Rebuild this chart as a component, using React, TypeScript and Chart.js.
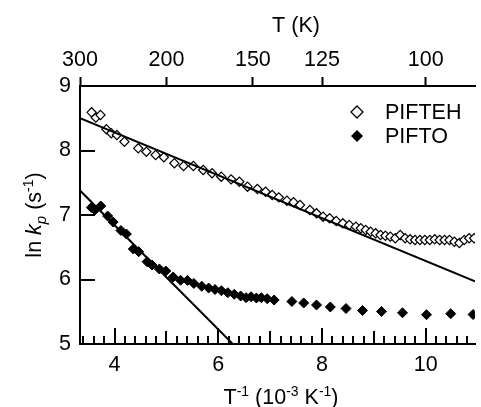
import React, { useEffect, useRef } from "react";
import { Chart, registerables } from "chart.js";
Chart.register(...registerables);

// ---- data ----
const piftehX = [3.557, 3.639, 3.728, 3.842, 3.937, 4.044, 4.19, 4.456, 4.613, 4.792, 4.95, 5.153, 5.33, 5.519, 5.709, 5.88, 6.057, 6.247, 6.406, 6.564, 6.754, 6.912, 7.039, 7.166, 7.324, 7.451, 7.576, 7.766, 7.894, 8.021, 8.146, 8.274, 8.401, 8.526, 8.653, 8.748, 8.843, 8.938, 9.033, 9.128, 9.223, 9.318, 9.413, 9.508, 9.603, 9.698, 9.793, 9.888, 9.983, 10.078, 10.173, 10.268, 10.363, 10.458, 10.553, 10.648, 10.743, 10.838, 10.933];
const piftehY = [8.592, 8.509, 8.55, 8.329, 8.267, 8.24, 8.136, 8.034, 7.981, 7.93, 7.895, 7.802, 7.76, 7.76, 7.698, 7.647, 7.594, 7.553, 7.516, 7.439, 7.403, 7.361, 7.31, 7.274, 7.222, 7.197, 7.155, 7.078, 7.026, 6.974, 6.949, 6.907, 6.871, 6.845, 6.819, 6.794, 6.767, 6.741, 6.716, 6.69, 6.679, 6.664, 6.639, 6.69, 6.639, 6.623, 6.612, 6.612, 6.612, 6.612, 6.623, 6.612, 6.612, 6.612, 6.586, 6.566, 6.612, 6.639, 6.639];
const piftoX = [3.553, 3.62, 3.734, 3.867, 3.972, 4.123, 4.228, 4.361, 4.465, 4.627, 4.722, 4.864, 4.988, 5.13, 5.273, 5.406, 5.529, 5.681, 5.814, 5.937, 6.061, 6.184, 6.308, 6.431, 6.536, 6.631, 6.735, 6.83, 6.944, 7.077, 7.419, 7.647, 7.894, 8.16, 8.463, 8.781, 9.147, 9.552, 10.015, 10.482, 10.913];
const piftoY = [7.116, 7.078, 7.14, 6.984, 6.891, 6.76, 6.705, 6.473, 6.431, 6.276, 6.225, 6.163, 6.132, 6.039, 5.988, 5.985, 5.938, 5.895, 5.868, 5.845, 5.826, 5.795, 5.771, 5.744, 5.718, 5.733, 5.713, 5.718, 5.702, 5.682, 5.659, 5.636, 5.605, 5.574, 5.55, 5.519, 5.504, 5.484, 5.454, 5.47, 5.457];
const fitPiftehX = [10 / 3, 10.95];
const fitPiftehY = [8.5, 5.97];
const fitPiftoX = [10 / 3, 6.28];
const fitPiftoY = [7.38, 5.0];
const bottomTicks = [4, 6, 8, 10];
const topTempsK = [300, 200, 150, 125, 100];
const yTicks = [5, 6, 7, 8, 9];
const legendLabels = ["PIFTEH", "PIFTO"];

const X_MIN = 10 / 3;
const X_MAX = 10.95;
const FONT = '"Liberation Sans", Arial, Helvetica, sans-serif';
const FS = 21.5;
const SUP = 14;

type Seg = { t: string; size?: number; italic?: boolean; dy?: number };

function drawRich(ctx: CanvasRenderingContext2D, segs: Seg[], x: number, y: number) {
  const fontOf = (s: Seg) => `${s.italic ? "italic " : ""}${s.size ?? FS}px ${FONT}`;
  let total = 0;
  for (const s of segs) {
    ctx.font = fontOf(s);
    total += ctx.measureText(s.t).width;
  }
  let cx = x - total / 2;
  ctx.textBaseline = "alphabetic";
  ctx.textAlign = "left";
  for (const s of segs) {
    ctx.font = fontOf(s);
    ctx.fillText(s.t, cx, y + (s.dy ?? 0));
    cx += ctx.measureText(s.t).width;
  }
}

function diamond(ctx: CanvasRenderingContext2D, x: number, y: number, r: number, filled: boolean) {
  ctx.beginPath();
  ctx.moveTo(x, y - r);
  ctx.lineTo(x + r, y);
  ctx.lineTo(x, y + r);
  ctx.lineTo(x - r, y);
  ctx.closePath();
  if (filled) {
    ctx.fillStyle = "#000";
    ctx.fill();
  } else {
    ctx.fillStyle = "#fff";
    ctx.fill();
    ctx.lineWidth = 1.3;
    ctx.strokeStyle = "#000";
    ctx.stroke();
  }
}

const decorPlugin = {
  id: "decor",
  afterDraw(chart: any) {
    const ctx: CanvasRenderingContext2D = chart.ctx;
    const xs = chart.scales.x;
    const ys = chart.scales.y;
    const { top, bottom, left } = chart.chartArea;
    ctx.save();
    ctx.strokeStyle = "#000";
    ctx.lineWidth = 2;
    // inward bottom ticks
    for (let i = 17; i <= 54; i++) {
      const v = i / 5;
      if (v < xs.min || v > xs.max) continue;
      const px = Math.round(xs.getPixelForValue(v));
      const len = i % 10 === 0 ? 16 : i % 5 === 0 ? 13 : 8;
      ctx.beginPath();
      ctx.moveTo(px, bottom);
      ctx.lineTo(px, bottom - len);
      ctx.stroke();
    }
    // inward left ticks
    for (const v of yTicks) {
      const py = Math.round(ys.getPixelForValue(v));
      ctx.beginPath();
      ctx.moveTo(left, py);
      ctx.lineTo(left + 15, py);
      ctx.stroke();
    }
    // legend
    diamond(ctx, 357, 112, 6, false);
    diamond(ctx, 357, 136, 6, true);
    ctx.fillStyle = "#000";
    ctx.font = `${FS}px ${FONT}`;
    ctx.textAlign = "left";
    ctx.textBaseline = "middle";
    ctx.fillText(legendLabels[0], 385, 113);
    ctx.fillText(legendLabels[1], 385, 137);
    // titles
    drawRich(ctx, [{ t: "T (K)" }], 296, 32);
    drawRich(
      ctx,
      [
        { t: "T" },
        { t: "-1", size: SUP, dy: -8 },
        { t: " (10" },
        { t: "-3", size: SUP, dy: -8 },
        { t: " K" },
        { t: "-1", size: SUP, dy: -8 },
        { t: ")" },
      ],
      281,
      404
    );
    ctx.save();
    ctx.translate(41, (top + bottom) / 2);
    ctx.rotate(-Math.PI / 2);
    drawRich(
      ctx,
      [
        { t: "ln " },
        { t: "k", italic: true },
        { t: "p", italic: true, size: 15, dy: 5 },
        { t: " (s" },
        { t: "-1", size: SUP, dy: -8 },
        { t: ")" },
      ],
      0,
      0
    );
    ctx.restore();
    ctx.restore();
  },
};

export default function App() {
  const ref = useRef<HTMLCanvasElement | null>(null);
  useEffect(() => {
    document.body.style.margin = "0";
    const canvas = ref.current!;
    const tickFont = { family: FONT, size: FS };
    const chart = new Chart(canvas, {
      type: "scatter",
      data: {
        datasets: [
          {
            label: "fit PIFTEH",
            data: fitPiftehX.map((x, i) => ({ x, y: fitPiftehY[i] })),
            showLine: true,
            pointRadius: 0,
            borderColor: "#000",
            borderWidth: 2,
            order: 0,
          },
          {
            label: "fit PIFTO",
            data: fitPiftoX.map((x, i) => ({ x, y: fitPiftoY[i] })),
            showLine: true,
            pointRadius: 0,
            borderColor: "#000",
            borderWidth: 2,
            order: 0,
          },
          {
            label: legendLabels[0],
            data: piftehX.map((x, i) => ({ x, y: piftehY[i] })),
            pointStyle: "rectRot",
            pointRadius: 4.6,
            backgroundColor: "#fff",
            borderColor: "#000",
            borderWidth: 1.2,
            order: 1,
          },
          {
            label: legendLabels[1],
            data: piftoX.map((x, i) => ({ x, y: piftoY[i] })),
            pointStyle: "rectRot",
            pointRadius: 5,
            backgroundColor: "#000",
            borderColor: "#000",
            borderWidth: 1,
            order: 1,
          },
        ],
      },
      options: {
        responsive: false,
        animation: false,
        layout: { padding: 0 },
        plugins: { legend: { display: false }, tooltip: { enabled: false } },
        scales: {
          x: {
            type: "linear",
            position: "bottom",
            min: X_MIN,
            max: X_MAX,
            afterBuildTicks: (s: any) => {
              s.ticks = bottomTicks.map((v) => ({ value: v }));
            },
            afterFit: (s: any) => {
              s.height = 63;
            },
            grid: { display: true, drawOnChartArea: false, drawTicks: false },
            border: { display: true, color: "#000", width: 2 },
            ticks: { font: tickFont, color: "#000", padding: 8, maxRotation: 0, autoSkip: false },
          },
          x2: {
            type: "linear",
            position: "top",
            min: X_MIN,
            max: X_MAX,
            afterBuildTicks: (s: any) => {
              s.ticks = topTempsK.map((t) => ({ value: 1000 / t }));
            },
            afterFit: (s: any) => {
              s.height = 86;
            },
            grid: { display: true, drawOnChartArea: false, drawTicks: true, tickLength: 9, tickWidth: 2, tickColor: "#000" },
            border: { display: true, color: "#000", width: 2 },
            ticks: {
              font: tickFont,
              color: "#000",
              padding: 4,
              maxRotation: 0,
              autoSkip: false,
              callback: (v: any) => String(Math.round(1000 / Number(v))),
            },
          },
          y: {
            type: "linear",
            position: "left",
            min: 5,
            max: 9,
            afterBuildTicks: (s: any) => {
              s.ticks = yTicks.map((v) => ({ value: v }));
            },
            afterFit: (s: any) => {
              s.width = 80;
            },
            grid: { display: true, drawOnChartArea: false, drawTicks: false },
            border: { display: true, color: "#000", width: 2 },
            ticks: { font: tickFont, color: "#000", padding: 9 },
          },
        },
      } as any,
      plugins: [decorPlugin],
    });
    return () => chart.destroy();
  }, []);
  return <canvas ref={ref} width={481} height={407} style={{ display: "block" }} />;
}
